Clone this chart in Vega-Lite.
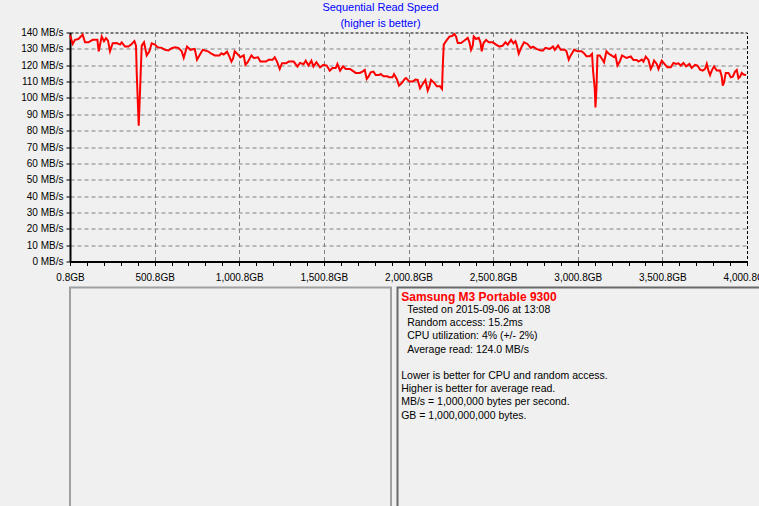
{
  "$schema": "https://vega.github.io/schema/vega-lite/v6.json",
  "background": "#f0f0f0",
  "padding": {"left": 0, "top": 1.5, "right": 0, "bottom": 0},
  "config": {"font": "Liberation Sans", "view": {"stroke": null}},
  "datasets": {
    "read": [
      {"gb":0.8,"mbps":138.5},{"gb":16.8,"mbps":133},{"gb":30.3,"mbps":135.5},{"gb":50.4,"mbps":136},{"gb":75.8,"mbps":138.7},{"gb":89.4,"mbps":134},{"gb":109.5,"mbps":134},{"gb":134.9,"mbps":135.5},{"gb":162.7,"mbps":135.5},{"gb":170.4,"mbps":128.5},{"gb":188.1,"mbps":137.5},{"gb":201.7,"mbps":134.7},{"gb":213.5,"mbps":136.5},{"gb":225.3,"mbps":135},{"gb":237.2,"mbps":128.5},{"gb":253.1,"mbps":133.4},{"gb":276.8,"mbps":133.5},{"gb":296.3,"mbps":132.6},{"gb":306.3,"mbps":134},{"gb":325.8,"mbps":131.4},{"gb":345.9,"mbps":131.4},{"gb":365.4,"mbps":133},{"gb":381.3,"mbps":134.7},{"gb":390.8,"mbps":132},{"gb":394.9,"mbps":115.7},{"gb":400.8,"mbps":99.3},{"gb":406.8,"mbps":83},{"gb":412.7,"mbps":99},{"gb":418.6,"mbps":115.7},{"gb":424.5,"mbps":132},{"gb":438.1,"mbps":134},{"gb":454,"mbps":126},{"gb":470,"mbps":128.5},{"gb":483.6,"mbps":133.4},{"gb":503.1,"mbps":132.6},{"gb":517.2,"mbps":131},{"gb":542.7,"mbps":130.6},{"gb":562.2,"mbps":129.4},{"gb":582.2,"mbps":129},{"gb":601.8,"mbps":130.4},{"gb":621.2,"mbps":131},{"gb":641.3,"mbps":130.6},{"gb":660.8,"mbps":128.5},{"gb":672.7,"mbps":124.5},{"gb":692.2,"mbps":131.4},{"gb":712.2,"mbps":129.4},{"gb":737.7,"mbps":130},{"gb":751.2,"mbps":123.4},{"gb":765.4,"mbps":126},{"gb":784.9,"mbps":129.4},{"gb":816.2,"mbps":128.5},{"gb":836.3,"mbps":127},{"gb":855.8,"mbps":126},{"gb":883.6,"mbps":126},{"gb":895.4,"mbps":127.3},{"gb":909,"mbps":126.5},{"gb":928.5,"mbps":128.3},{"gb":942.7,"mbps":125.3},{"gb":954.5,"mbps":122.2},{"gb":964,"mbps":124},{"gb":974,"mbps":128.5},{"gb":993.5,"mbps":126.5},{"gb":1007.7,"mbps":124.9},{"gb":1027.2,"mbps":126},{"gb":1037.2,"mbps":120.2},{"gb":1050.8,"mbps":121.8},{"gb":1072.7,"mbps":126},{"gb":1086.3,"mbps":124.4},{"gb":1111.7,"mbps":124.8},{"gb":1125.9,"mbps":122.2},{"gb":1159,"mbps":122.2},{"gb":1174.9,"mbps":123.4},{"gb":1198.6,"mbps":123.4},{"gb":1210.4,"mbps":124.9},{"gb":1224,"mbps":122.2},{"gb":1239.9,"mbps":117.7},{"gb":1253.5,"mbps":121.2},{"gb":1277.1,"mbps":121.2},{"gb":1293.1,"mbps":122.2},{"gb":1322.6,"mbps":122.2},{"gb":1344.5,"mbps":119.2},{"gb":1359.9,"mbps":121.4},{"gb":1380,"mbps":120.6},{"gb":1393.6,"mbps":122.8},{"gb":1409.5,"mbps":119.8},{"gb":1427.2,"mbps":122.8},{"gb":1439.1,"mbps":119.2},{"gb":1456.8,"mbps":121.8},{"gb":1478.1,"mbps":118.7},{"gb":1498.1,"mbps":120.2},{"gb":1517.6,"mbps":119.8},{"gb":1535.4,"mbps":116.7},{"gb":1551.3,"mbps":118.3},{"gb":1570.8,"mbps":118.3},{"gb":1580.9,"mbps":120.8},{"gb":1596.2,"mbps":116.7},{"gb":1614,"mbps":119.3},{"gb":1629.9,"mbps":117.7},{"gb":1655.3,"mbps":117.7},{"gb":1669.5,"mbps":116.7},{"gb":1689,"mbps":115.3},{"gb":1712.6,"mbps":115.3},{"gb":1728.6,"mbps":116.1},{"gb":1742.2,"mbps":117.1},{"gb":1754,"mbps":111.6},{"gb":1764.1,"mbps":113},{"gb":1777.6,"mbps":115.7},{"gb":1793.6,"mbps":116.1},{"gb":1807.2,"mbps":114},{"gb":1826.7,"mbps":114},{"gb":1836.7,"mbps":114.6},{"gb":1852.7,"mbps":113.2},{"gb":1876.3,"mbps":113.2},{"gb":1885.8,"mbps":112.6},{"gb":1905.9,"mbps":112.6},{"gb":1915.3,"mbps":114.6},{"gb":1931.3,"mbps":111.6},{"gb":1944.9,"mbps":107.5},{"gb":1960.8,"mbps":109.1},{"gb":1978.5,"mbps":111.6},{"gb":1986.2,"mbps":112.2},{"gb":2006.3,"mbps":110},{"gb":2025.8,"mbps":110},{"gb":2041.8,"mbps":111.2},{"gb":2055.4,"mbps":111},{"gb":2069,"mbps":105.9},{"gb":2084.9,"mbps":108.5},{"gb":2100.8,"mbps":111},{"gb":2114.4,"mbps":104.5},{"gb":2124.5,"mbps":107.1},{"gb":2133.9,"mbps":111},{"gb":2154,"mbps":109.1},{"gb":2167.6,"mbps":107.1},{"gb":2187.1,"mbps":107.1},{"gb":2198.9,"mbps":105.5},{"gb":2203.1,"mbps":118.7},{"gb":2209,"mbps":132.6},{"gb":2222.6,"mbps":134.7},{"gb":2242.7,"mbps":137.5},{"gb":2258,"mbps":137.8},{"gb":2272.2,"mbps":139.1},{"gb":2281.7,"mbps":137.5},{"gb":2291.7,"mbps":133.6},{"gb":2311.2,"mbps":133.6},{"gb":2331.3,"mbps":135.1},{"gb":2350.8,"mbps":136.7},{"gb":2360.8,"mbps":134},{"gb":2370.3,"mbps":129.4},{"gb":2380.4,"mbps":132},{"gb":2386.3,"mbps":137.5},{"gb":2399.9,"mbps":136},{"gb":2415.8,"mbps":136.7},{"gb":2425.8,"mbps":134},{"gb":2433.5,"mbps":128.5},{"gb":2443.6,"mbps":133.4},{"gb":2458.9,"mbps":135.5},{"gb":2474.9,"mbps":134},{"gb":2498.5,"mbps":134},{"gb":2518,"mbps":132.6},{"gb":2538.1,"mbps":131.4},{"gb":2557.6,"mbps":132},{"gb":2573.6,"mbps":134},{"gb":2587.2,"mbps":132.6},{"gb":2606.7,"mbps":135.5},{"gb":2620.8,"mbps":133.4},{"gb":2632.7,"mbps":134.7},{"gb":2638.6,"mbps":133},{"gb":2652.2,"mbps":127},{"gb":2668.1,"mbps":131},{"gb":2683.5,"mbps":134},{"gb":2703.6,"mbps":133},{"gb":2723.1,"mbps":130.6},{"gb":2736.7,"mbps":131.4},{"gb":2756.8,"mbps":130},{"gb":2782.2,"mbps":129},{"gb":2795.8,"mbps":129},{"gb":2809.9,"mbps":130.6},{"gb":2835.4,"mbps":130},{"gb":2854.9,"mbps":131.4},{"gb":2864.9,"mbps":129.4},{"gb":2884.4,"mbps":132},{"gb":2900.3,"mbps":129.4},{"gb":2924,"mbps":129.4},{"gb":2934,"mbps":128.5},{"gb":2947.6,"mbps":123.4},{"gb":2959.4,"mbps":126},{"gb":2978.9,"mbps":129.4},{"gb":2999,"mbps":128.5},{"gb":3022.7,"mbps":128.5},{"gb":3038,"mbps":127.3},{"gb":3052.2,"mbps":125.5},{"gb":3071.7,"mbps":125.5},{"gb":3085.3,"mbps":127},{"gb":3091.2,"mbps":116.7},{"gb":3101.3,"mbps":105.5},{"gb":3105.4,"mbps":94.2},{"gb":3111.3,"mbps":105.5},{"gb":3117.2,"mbps":126},{"gb":3130.8,"mbps":126},{"gb":3144.4,"mbps":123.8},{"gb":3156.2,"mbps":121.8},{"gb":3170.4,"mbps":128.5},{"gb":3184,"mbps":127},{"gb":3199.9,"mbps":126},{"gb":3215.3,"mbps":124.9},{"gb":3223.6,"mbps":126},{"gb":3235.4,"mbps":119.8},{"gb":3249,"mbps":122.2},{"gb":3262.6,"mbps":126},{"gb":3288.6,"mbps":124.4},{"gb":3314,"mbps":125.3},{"gb":3329.9,"mbps":123.2},{"gb":3349.4,"mbps":123.2},{"gb":3359.5,"mbps":122.2},{"gb":3379,"mbps":123.4},{"gb":3389,"mbps":122.2},{"gb":3402.6,"mbps":125.3},{"gb":3418.6,"mbps":123.2},{"gb":3432.2,"mbps":117.7},{"gb":3442.2,"mbps":119.8},{"gb":3451.7,"mbps":122.8},{"gb":3467.6,"mbps":120.8},{"gb":3477.7,"mbps":117.7},{"gb":3497.2,"mbps":122.8},{"gb":3516.7,"mbps":120.4},{"gb":3530.8,"mbps":118.7},{"gb":3550.3,"mbps":118.7},{"gb":3566.3,"mbps":121.4},{"gb":3581.7,"mbps":120.8},{"gb":3595.8,"mbps":121.2},{"gb":3609.4,"mbps":119.8},{"gb":3625.4,"mbps":121.4},{"gb":3640.8,"mbps":119.3},{"gb":3660.8,"mbps":120.8},{"gb":3674.4,"mbps":118.3},{"gb":3693.9,"mbps":120.2},{"gb":3708.1,"mbps":119.8},{"gb":3723.5,"mbps":117.3},{"gb":3739.4,"mbps":116.7},{"gb":3753,"mbps":117.7},{"gb":3763.1,"mbps":120.8},{"gb":3773.1,"mbps":116.7},{"gb":3782.6,"mbps":114},{"gb":3792.6,"mbps":116.7},{"gb":3806.2,"mbps":119.3},{"gb":3822.1,"mbps":116.7},{"gb":3841.7,"mbps":116.7},{"gb":3851.7,"mbps":113},{"gb":3857.6,"mbps":107.5},{"gb":3865.3,"mbps":109.6},{"gb":3875.3,"mbps":115.3},{"gb":3891.3,"mbps":115.3},{"gb":3904.9,"mbps":112.6},{"gb":3916.7,"mbps":113},{"gb":3930.3,"mbps":116.1},{"gb":3940.3,"mbps":117.1},{"gb":3950.4,"mbps":112},{"gb":3959.9,"mbps":113},{"gb":3969.9,"mbps":115.3},{"gb":3979.9,"mbps":114.3},{"gb":3995.3,"mbps":114}
    ],
    "info": [
      {"line":0,"text":"Samsung M3 Portable 9300"},
      {"line":1,"text":"Tested on 2015-09-06 at 13:08"},
      {"line":2,"text":"Random access: 15.2ms"},
      {"line":3,"text":"CPU utilization: 4% (+/- 2%)"},
      {"line":4,"text":"Average read: 124.0 MB/s"},
      {"line":6,"text":"Lower is better for CPU and random access."},
      {"line":7,"text":"Higher is better for average read."},
      {"line":8,"text":"MB/s = 1,000,000 bytes per second."},
      {"line":9,"text":"GB = 1,000,000,000 bytes."}
    ]
  },
  "concat": [
    {
      "width": 677,
      "height": 229,
      "view": {"stroke": "#000000", "strokeDash": [3, 2], "strokeWidth": 1},
      "title": {
        "text": "Sequential Read Speed",
        "subtitle": "(higher is better)",
        "color": "#0000ff",
        "subtitleColor": "#0000ff",
        "font": "Liberation Sans",
        "subtitleFont": "Liberation Sans",
        "fontSize": 11,
        "subtitleFontSize": 11,
        "fontWeight": "normal",
        "anchor": "middle",
        "dx": -28,
        "offset": -1,
        "subtitlePadding": 4.5
      },
      "data": {"name": "read"},
      "mark": {"type": "line", "color": "#ff0000", "strokeWidth": 2},
      "encoding": {
        "x": {
          "field": "gb",
          "type": "quantitative",
          "scale": {"domain": [0.8, 4000.8], "nice": false, "zero": false},
          "axis": {
            "title": null,
            "values": [0.8,100.8,200.8,300.8,400.8,500.8,600.8,700.8,800.8,900.8,1000.8,1100.8,1200.8,1300.8,1400.8,1500.8,1600.8,1700.8,1800.8,1900.8,2000.8,2100.8,2200.8,2300.8,2400.8,2500.8,2600.8,2700.8,2800.8,2900.8,3000.8,3100.8,3200.8,3300.8,3400.8,3500.8,3600.8,3700.8,3800.8,3900.8,4000.8],
            "labelExpr": "round(datum.value - 0.8) % 500 == 0 ? format(datum.value, ',.1f') + 'GB' : ''",
            "labelFlush": false,
            "labelOverlap": false,
            "labelBound": false,
            "labelFontSize": 10,
            "labelColor": "#000000",
            "labelPadding": 7,
            "tickSize": 4,
            "tickColor": "#000000",
            "domainColor": "#000000",
            "domainWidth": 2,
            "grid": true,
            "gridColor": "#808080",
            "gridDash": [4, 3],
            "gridOpacity": {"condition": {"test": "round(datum.value - 0.8) % 500 == 0 && datum.value > 1 && datum.value < 4000", "value": 1}, "value": 0}
          }
        },
        "y": {
          "field": "mbps",
          "type": "quantitative",
          "scale": {"domain": [0, 140], "nice": false},
          "axis": {
            "title": null,
            "values": [0,10,20,30,40,50,60,70,80,90,100,110,120,130,140],
            "labelExpr": "datum.value + ' MB/s'",
            "labelFontSize": 10,
            "labelColor": "#000000",
            "labelPadding": 3,
            "tickSize": 4,
            "tickColor": "#000000",
            "domainColor": "#000000",
            "domainWidth": 2,
            "minExtent": 69,
            "grid": true,
            "gridColor": "#808080",
            "gridDash": [4, 3],
            "gridOpacity": {"condition": {"test": "datum.value > 0 && datum.value < 140", "value": 1}, "value": 0}
          }
        }
      }
    },
    {
      "hconcat": [
        {
          "width": 321,
          "height": 226,
          "view": {"stroke": "#a0a0a0", "strokeWidth": 2},
          "data": {"values": [{}]},
          "mark": {"type": "text"},
          "encoding": {"text": {"value": ""}}
        },
        {
          "width": 372,
          "height": 226,
          "view": {"stroke": "#696969", "strokeWidth": 2},
          "data": {"name": "info"},
          "encoding": {
            "x": {"datum": 0, "type": "quantitative", "scale": {"domain": [0, 1]}, "axis": null},
            "y": {"field": "line", "type": "quantitative", "scale": {"domain": [-0.7, 16.42], "reverse": true}, "axis": null},
            "text": {"field": "text"}
          },
          "layer": [
            {
              "transform": [{"filter": "datum.line == 0"}],
              "mark": {"type": "text", "align": "left", "baseline": "middle", "dx": 3.7, "font": "Liberation Sans", "fontSize": 12, "fontWeight": "bold", "color": "#ff0000"}
            },
            {
              "transform": [{"filter": "datum.line > 0 && datum.line < 5"}],
              "mark": {"type": "text", "align": "left", "baseline": "middle", "dx": 9.7, "font": "Liberation Sans", "fontSize": 10.5, "color": "#000000"}
            },
            {
              "transform": [{"filter": "datum.line > 5"}],
              "mark": {"type": "text", "align": "left", "baseline": "middle", "dx": 3.7, "font": "Liberation Sans", "fontSize": 10.5, "color": "#000000"}
            }
          ]
        }
      ],
      "spacing": 4.5
    }
  ],
  "columns": 1,
  "spacing": 3
}
